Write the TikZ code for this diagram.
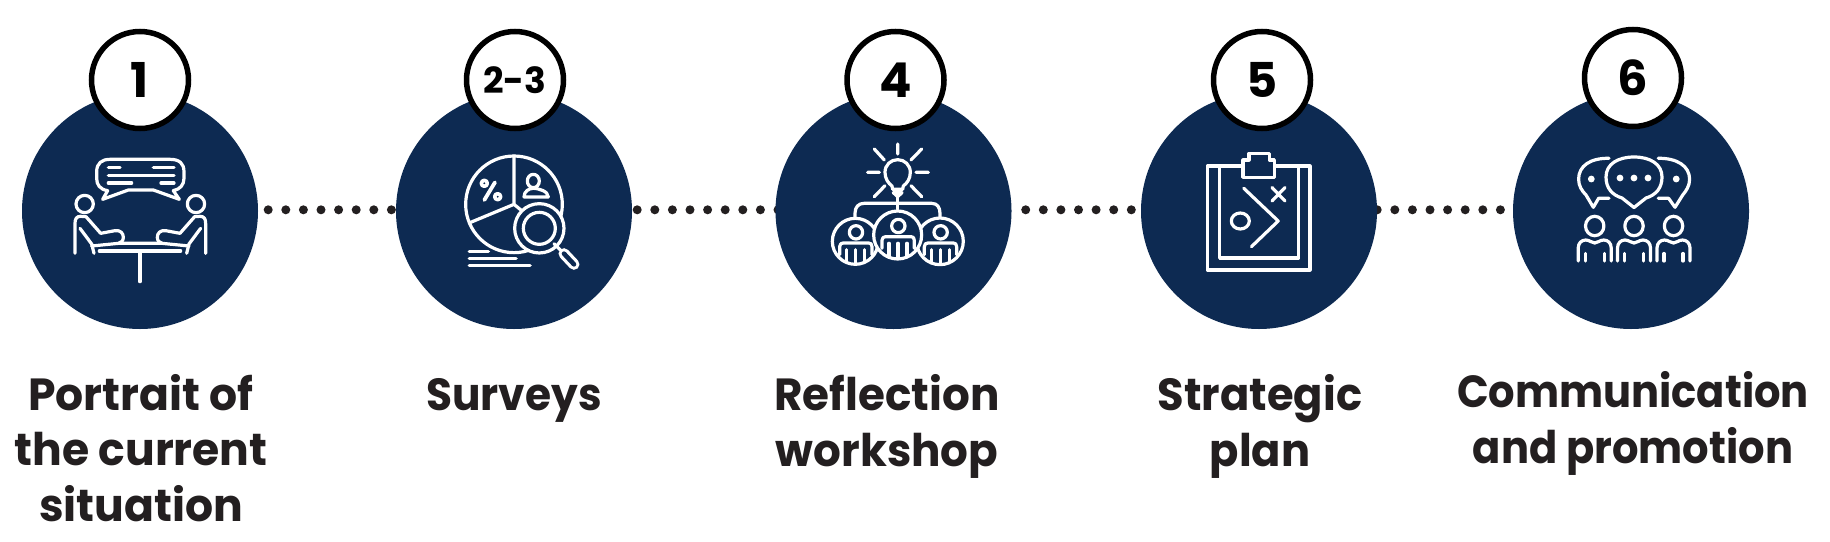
\documentclass[tikz,border=0pt]{standalone}
\usepackage{fontspec}
\setmainfont{Poppins}
\usetikzlibrary{calc}
\definecolor{navy}{HTML}{0D2A52}
\definecolor{ink}{HTML}{231F20}
\pgfdeclarelayer{under}
\pgfsetlayers{under,main}
\tikzset{
  stage/.style={circle,fill=navy,minimum size=236pt,inner sep=0pt},
  badge/.style={circle,draw=black,line width=5.5pt,fill=white,minimum size=97pt,inner sep=0pt,font=\fontsize{48}{48}\bfseries\selectfont,text=black},
  caption/.style={align=center,inner sep=0pt,anchor=base,text=ink,transform shape,font=\fontsize{45}{55.5}\bfseries\selectfont},
  dotline/.style={ink,line width=9pt,line cap=round,dash pattern=on 0pt off 17.6pt},
  ico/.style={white,line width=3.2pt,line cap=round,line join=round},
  bar/.style={white,line width=3.6pt,line cap=round}
}
\begin{document}
\begin{tikzpicture}[x=1pt,y=-1pt]
\useasboundingbox (0,0) rectangle (1830,541);
\node[stage] (c1) at (140,211) {};
\node[stage] (c2) at (514,211) {};
\node[stage] (c3) at (893.5,211) {};
\node[stage] (c4) at (1259,211) {};
\node[stage] (c5) at (1631,211) {};
\begin{pgfonlayer}{under}
\draw[dotline,shorten <=10pt] ([yshift=1.2pt]c1.east) -- ([yshift=1.2pt]c2.west);
\draw[dotline,shorten <=5pt,shorten >=-4pt] ([yshift=1.2pt]c2.east) -- ([yshift=1.2pt]c3.west);
\draw[dotline,shorten <=14pt] ([yshift=1.2pt]c3.east) -- ([yshift=1.2pt]c4.west);
\draw[dotline] ([yshift=1.2pt]c4.east) -- ([yshift=1.2pt]c5.west);
\end{pgfonlayer}
\node[badge] (b1) at (140,80) {1};
\node[badge,font=\fontsize{36}{36}\bfseries\selectfont] (b2) at (515,80) {2-3};
\node[badge] (b3) at (895.5,80) {4};
\node[badge] (b4) at (1262,80) {5};
\node[badge] (b5) at (1633,78) {6};
\node[caption,xscale=.98] (t1) at (141,521) {Portrait of\\the current\\situation};
\node[caption,xscale=.94] (t2) at (514,410) {Surveys};
\node[caption,xscale=.97] (t3) at (887,466) {Reflection\\workshop};
\node[caption,xscale=.96] (t4) at (1260,466) {Strategic\\plan};
\node[caption,xscale=.925] (t5) at (1633,463) {Communication\\and promotion};
% icon 1
\begin{scope}[shift={(60,150)},scale=0.3333,ico]
\draw (143,122) .. controls (120,118) and (110,105) .. (110,85) -- (110,65) .. controls (110,40) and (125,28) .. (150,28) -- (330,28) .. controls (358,28) and (372,40) .. (372,65) -- (372,85) .. controls (372,105) and (360,118) .. (340,122) -- (358,148) -- (280,120) -- (205,120) -- (128,148) -- cycle;
\draw (145,52) -- (180,52) (280,52) -- (342,52) (145,76) -- (342,76) (145,99) -- (215,99) (303,99) -- (342,99);
\draw (74,162) circle[radius=26] (408,162) circle[radius=26];
\draw (45,310) -- (45,220) .. controls (45,206) and (50,199) .. (62,199) -- (78,200) -- (122,250) -- (165,242) .. controls (182,240) and (190,250) .. (190,262) .. controls (190,272) and (184,278) .. (176,280);
\draw (437,310) -- (437,220) .. controls (437,206) and (432,199) .. (420,199) -- (404,200) -- (360,250) -- (317,242) .. controls (300,240) and (292,250) .. (292,262) .. controls (292,272) and (298,278) .. (306,280);
\draw (60,235) -- (95,282) -- (102,310);
\draw (422,235) -- (387,282) -- (380,310);
\draw (95,288) -- (176,280) -- (306,280) -- (387,288);
\draw (118,303) -- (362,303);
\draw (240,305) -- (240,395);
\end{scope}
% icon 2
\begin{scope}[shift={(450,145)},scale=0.3333,ico]
\draw (192,178) circle[radius=145];
\draw (192,33) -- (192,178) -- (62,232) (192,178) -- (225,205);
\draw[line width=3.8pt] (135,112) -- (103,165);
\draw[line width=3.6pt] (103,115) circle[radius=9] (143,155) circle[radius=9];
\draw (250,108) circle[x radius=18,y radius=20];
\draw (222,156) .. controls (222,138) and (238,130) .. (250,130) .. controls (264,130) and (295,138) .. (295,156) -- cycle;
\draw[fill=navy] (268,250) circle[radius=74];
\draw (268,250) circle[radius=48];
\draw (312,296) -- (332,316);
\draw[line width=11pt] (342,326) -- (372,358);
\draw[navy,line width=4.6pt] (342,326) -- (372,358);
\draw[bar] (58,320) -- (115,320) (58,341) -- (198,341) (58,362) -- (240,362);
\end{scope}
% icon 3
\begin{scope}[shift={(740,120)},scale=0.3333,ico]
\draw (458,208) -- (456,198) .. controls (445,190) and (435,176) .. (435,157) .. controls (435,135) and (452,119) .. (473,119) .. controls (494,119) and (511,135) .. (511,157) .. controls (511,176) and (501,190) .. (490,198) -- (488,208) -- cycle;
\draw (460,218) -- (473,230) -- (486,218) -- cycle;
\draw (473,230) -- (473,268);
\draw (473,72) -- (473,102) (403,87) -- (433,120) (545,87) -- (513,120) (383,157) -- (418,157) (528,157) -- (565,157) (403,230) -- (435,197) (545,230) -- (513,197);
\draw (345,292) -- (345,280) .. controls (345,262) and (355,250) .. (372,250) -- (575,250) .. controls (592,250) and (600,262) .. (600,280) -- (600,292);
\foreach \cx/\cy/\r in {346/364/69,600/364/70,473/345/72} {
  \draw[fill=navy] (\cx,\cy) circle[radius=\r];
  \draw (\cx+2,\cy-27) circle[radius=20];
  \begin{scope}
  \clip (\cx,\cy) circle[radius=\r];
  \draw (\cx-47,\cy+40) -- (\cx-47,\cy+16) .. controls (\cx-47,\cy+8) and (\cx-42,\cy+5) .. (\cx-36,\cy+5) -- (\cx+40,\cy+5) .. controls (\cx+46,\cy+5) and (\cx+50,\cy+8) .. (\cx+50,\cy+16) -- (\cx+50,\cy+40);
  \draw (\cx-26,\cy+25) -- (\cx-26,\cy+70) (\cx+1,\cy+25) -- (\cx+1,\cy+70) (\cx+28,\cy+25) -- (\cx+28,\cy+70);
  \end{scope}
}
\end{scope}
% icon 4
\begin{scope}[ico]
\draw (1207.4,166) rectangle (1310,270);
\draw (1219.6,166) -- (1219.6,258) -- (1298.5,258) -- (1298.5,166);
\draw[fill=navy] (1243,177.3) -- (1243,160) -- (1249,160) -- (1249,153.3) -- (1269.4,153.3) -- (1269.4,160) -- (1274.4,160) -- (1274.4,177.3) -- cycle;
\draw (1243.8,188.3) -- (1278.2,221) -- (1251.4,246.7);
\draw (1272,187.5) -- (1285,201) (1285,187.5) -- (1272,201);
\draw (1240.3,221) circle[x radius=9,y radius=8];
\end{scope}
% icon 5
\begin{scope}[ico]
\draw (1646,198) -- (1634,207.5) -- (1622,198) .. controls (1612,195) and (1606,188) .. (1606,177) .. controls (1606,164) and (1618,157) .. (1634,157) .. controls (1650,157) and (1662,164) .. (1662,177) .. controls (1662,188) and (1656,195) .. (1646,198) -- cycle;
\draw (1609,158.3) .. controls (1590,158) and (1578.6,166) .. (1578.6,179.3) .. controls (1578.6,186) and (1582,191) .. (1586,195) -- (1593.3,207.3) -- (1598.6,198.3) -- (1609,198.3);
\draw (1658.2,158.3) .. controls (1677,158) and (1689.6,166) .. (1689.6,179.3) .. controls (1689.6,186) and (1686,191) .. (1682.7,195) -- (1675,207.3) -- (1668.6,198.3) -- (1658.2,198.3);
\fill (1620,178) circle[radius=3.4] (1634,178) circle[radius=3.4] (1648,178) circle[radius=3.4] (1591.3,179) circle[radius=3.4] (1676.2,179) circle[radius=3.4];
\foreach \hx in {1594.7,1634,1673.5} {
  \draw (\hx,226) circle[x radius=9.2,y radius=9.7];
  \draw (\hx-16.5,261) -- (\hx-16.5,248) .. controls (\hx-16.5,243) and (\hx-13,240) .. (\hx-9,240) .. controls (\hx-5,240) and (\hx-3,243) .. (\hx,243) .. controls (\hx+3,243) and (\hx+5,240) .. (\hx+9,240) .. controls (\hx+13,240) and (\hx+16.5,243) .. (\hx+16.5,248) -- (\hx+16.5,261);
  \draw (\hx-9.5,253.5) -- (\hx-9.5,261) (\hx+9.5,253.5) -- (\hx+9.5,261);
}
\end{scope}
\end{tikzpicture}
\end{document}
